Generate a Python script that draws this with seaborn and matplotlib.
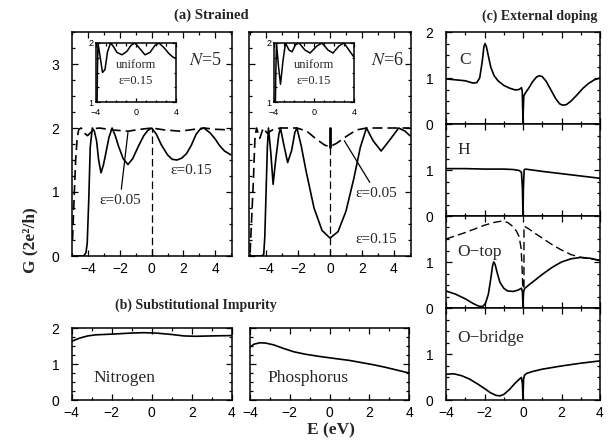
import matplotlib
matplotlib.use("Agg")
import matplotlib.pyplot as plt
import seaborn as sns
from matplotlib.ticker import MultipleLocator, FixedLocator

sns.set_style("ticks")
plt.rcParams["font.family"] = ["Liberation Sans", "DejaVu Sans"]
plt.rcParams["xtick.labelsize"] = 10
plt.rcParams["ytick.labelsize"] = 10
SERIF = ["Liberation Serif", "DejaVu Serif"]

# ---------------- data: (a) strained ----------------
n5_e015_E = [-5.0, -4.3, -4.15, -4.07, -3.97, -3.88, -3.75, -3.62, -3.48, -3.35, -3.2,
             -3.05, -2.9, -2.7, -2.5, -2.3, -2.1, -1.8, -1.5, -1.2, -0.85, -0.5, -0.25,
             0.0, 0.3, 0.6, 1.0, 1.3, 1.6, 1.9, 2.2, 2.5, 2.8, 3.05, 3.3, 3.7, 4.0, 4.3,
             4.6, 5.0]
n5_e015_G = [0.0, 0.0, 0.05, 0.2, 0.9, 1.7, 2.0, 1.95, 1.8, 1.5, 1.3,
             1.42, 1.6, 1.85, 2.0, 1.88, 1.72, 1.52, 1.43, 1.52, 1.71, 1.88, 1.96,
             2.0, 1.9, 1.74, 1.58, 1.51, 1.5, 1.53, 1.6, 1.73, 1.9, 1.98, 2.0, 1.92, 1.83, 1.72,
             1.64, 1.58]
n5_e005_E = [-5.0, -4.9, -4.8, -4.7, -4.6, -4.45, -4.25, -4.05, -3.85, -3.6, -3.3,
             -2.5, -1.5, -0.7, 0.0, 0.8, 1.8, 2.7, 3.3, 4.0, 5.0]
n5_e005_G = [0.25, 0.9, 1.5, 1.86, 1.98, 2.0, 1.92, 1.88, 1.93, 1.99, 2.0,
             1.97, 1.95, 1.98, 2.0, 1.97, 1.95, 1.98, 2.0, 1.98, 1.97]

n6_e015_E = [-5.0, -4.3, -4.15, -4.08, -4.0, -3.92, -3.85, -3.7, -3.56, -3.4, -3.2,
             -3.1, -2.9, -2.65, -2.4, -2.2, -2.07, -1.8, -1.5, -1.0, -0.5, 0.0, 0.5,
             1.0, 1.5, 1.9, 2.28, 2.7, 3.2, 3.7, 4.3, 4.7, 5.0]
n6_e015_G = [0.0, 0.0, 0.02, 0.3, 1.0, 1.7, 2.0, 1.6, 1.12, 1.5, 1.9,
             2.0, 1.75, 1.46, 1.65, 1.93, 2.0, 1.72, 1.33, 0.75, 0.4, 0.28, 0.38,
             0.7, 1.22, 1.7, 2.0, 1.8, 1.64, 1.8, 2.0, 1.95, 1.88]
n6_e005_E = [-5.0, -4.9, -4.8, -4.7, -4.6, -4.39, -4.18, -3.93, -3.6, -3.1, -2.07,
             -1.45, -0.83, -0.31, 0.0, 0.41, 1.03, 1.66, 2.3, 3.0, 4.0, 5.0]
n6_e005_G = [0.05, 0.6, 1.14, 1.82, 2.0, 1.84, 2.0, 1.92, 1.97, 2.0, 2.0,
             1.95, 1.82, 1.73, 1.71, 1.76, 1.87, 1.97, 2.0, 2.0, 2.0, 2.0]

# vertical reference at E=0 (dashed) and the short spike of N=6 curve
vline_E = [0.0, 0.0]
vline_G = [0.0, 2.0]
n6_spike_E = [0.0, 0.0]
n6_spike_G = [1.71, 2.0]

# insets: uniform strain eps=0.15
in5_E = [-4.0, -3.92, -3.86, -3.8, -3.6, -3.35, -3.1, -2.85, -2.55, -2.3, -1.9, -1.4,
         -0.9, -0.5, -0.1, 0.4, 0.9, 1.4, 1.9, 2.3, 2.8, 3.3, 3.7, 4.0]
in5_G = [0.0, 0.5, 1.5, 2.0, 1.78, 1.5, 1.55, 1.85, 2.0, 1.95, 1.84, 1.8,
         1.86, 1.96, 2.0, 1.9, 1.8, 1.84, 1.96, 2.0, 1.92, 1.82, 1.76, 1.74]
in6_E = [-4.0, -3.9, -3.82, -3.75, -3.55, -3.35, -3.1, -2.85, -2.5, -2.2, -1.85, -1.5,
         -0.9, -0.4, 0.3, 0.8, 1.4, 1.9, 2.5, 3.0, 3.5, 4.0]
in6_G = [0.0, 0.5, 1.5, 2.0, 1.6, 1.3, 1.7, 2.0, 1.88, 1.85, 1.97, 2.0,
         1.88, 1.83, 1.95, 2.0, 1.88, 1.83, 1.95, 2.0, 1.88, 1.76]

# ---------------- data: (b) substitutional impurity ----------------
nitro_E = [-4.0, -3.6, -3.2, -2.8, -2.0, -1.0, -0.4, 0.2, 1.0, 1.6, 2.2, 3.0, 4.0]
nitro_G = [1.63, 1.72, 1.78, 1.81, 1.83, 1.86, 1.87, 1.86, 1.82, 1.78, 1.77, 1.78, 1.79]
phos_E = [-4.0, -3.8, -3.5, -3.2, -2.8, -2.3, -1.8, -1.2, -0.5, 0.3, 1.0, 1.6, 2.2,
          2.8, 3.4, 4.0]
phos_G = [1.47, 1.55, 1.59, 1.58, 1.53, 1.43, 1.34, 1.27, 1.21, 1.15, 1.1, 1.04, 0.98,
          0.91, 0.83, 0.75]

# ---------------- data: (c) external doping ----------------
C_E = [-4.0, -3.5, -3.0, -2.6, -2.4, -2.25, -2.12, -2.03, -1.97, -1.9, -1.8, -1.67,
       -1.5, -1.3, -1.0, -0.7, -0.4, -0.2, -0.08, -0.04, -0.015, 0.0, 0.015, 0.04,
       0.1, 0.3, 0.5, 0.7, 0.85, 1.0, 1.2, 1.45, 1.7, 1.9, 2.05, 2.25, 2.5, 2.8,
       3.1, 3.4, 3.7, 4.0]
C_G = [0.98, 0.96, 0.94, 0.89, 0.9, 1.0, 1.35, 1.68, 1.75, 1.68, 1.48, 1.23,
       1.05, 0.94, 0.84, 0.78, 0.74, 0.75, 0.79, 0.72, 0.3, 0.0, 0.3, 0.6,
       0.66, 0.78, 0.92, 1.02, 1.05, 1.03, 0.93, 0.74, 0.55, 0.44, 0.41, 0.42, 0.5, 0.63,
       0.77, 0.88, 0.96, 1.0]
H_E = [-4.0, -3.0, -2.0, -1.0, -0.5, -0.2, -0.08, -0.03, 0.0, 0.02, 0.06, 0.12,
       1.0, 2.0, 3.0, 4.0]
H_G = [1.03, 1.03, 1.02, 1.02, 1.01, 0.99, 0.95, 0.6, 0.0, 0.6, 1.0, 1.02,
       0.97, 0.92, 0.87, 0.82]
Otop_E = [-4.0, -3.5, -3.0, -2.6, -2.3, -2.1, -1.95, -1.8, -1.68, -1.58, -1.52, -1.45,
          -1.35, -1.2, -1.0, -0.8, -0.5, -0.25, -0.08, -0.03, -0.012, 0.0, 0.012, 0.03,
          0.08, 0.3, 0.7, 1.0, 1.5, 2.0, 2.5, 3.0, 3.5, 4.0]
Otop_G = [0.37, 0.3, 0.2, 0.1, 0.04, 0.03, 0.1, 0.3, 0.62, 0.92, 1.0, 0.95,
          0.78, 0.56, 0.43, 0.37, 0.36, 0.39, 0.43, 0.35, 0.15, 0.0, 0.15, 0.35,
          0.42, 0.5, 0.63, 0.73, 0.88, 1.0, 1.07, 1.1, 1.08, 1.03]
Otop2_E = [-4.0, -3.5, -3.0, -2.5, -2.0, -1.5, -1.1, -0.8, -0.55, -0.35, -0.2, -0.1,
           -0.05, -0.02, 0.0, 0.05, 0.05, 0.3, 0.6, 1.0, 1.5, 2.0, 2.5, 3.0, 3.5, 4.0]
Otop2_G = [1.5, 1.57, 1.64, 1.72, 1.8, 1.86, 1.89, 1.86, 1.78, 1.68, 1.55, 1.3,
           0.9, 0.55, 0.42, 0.42, 1.78, 1.72, 1.63, 1.52, 1.38, 1.26, 1.16, 1.1, 1.07, 1.04]
Obr_E = [-4.0, -3.6, -3.2, -2.8, -2.4, -2.0, -1.7, -1.4, -1.2, -1.0, -0.7, -0.4,
         -0.2, -0.08, -0.03, -0.012, 0.0, 0.012, 0.03, 0.08, 0.2, 0.5, 1.0, 2.0, 3.0, 4.0]
Obr_G = [0.56, 0.57, 0.53, 0.46, 0.36, 0.25, 0.16, 0.1, 0.09, 0.12, 0.23, 0.37,
         0.45, 0.49, 0.35, 0.15, 0.0, 0.2, 0.45, 0.54, 0.58, 0.62, 0.67, 0.74, 0.8, 0.85]

# label anchors for panel (c): (E_left, G) in data units
c_names = ["C", "H", "O−top", "O−bridge"]
c_label_pos = [(-3.3, 1.4), (-3.4, 1.43), (-3.4, 1.22), (-3.4, 1.35)]

W, H = 613, 443
fig = plt.figure(figsize=(W / 100, H / 100), dpi=100)


def px_axes(x0, y0, x1, y1):
    return fig.add_axes([x0 / W, 1 - y1 / H, (x1 - x0) / W, (y1 - y0) / H])


def style(ax, xmaj, xmin, ymaj, ymin, lsize=10, maj=4.5, mnr=2.5, ypad=9, xpad=4):
    ax.xaxis.set_major_locator(MultipleLocator(xmaj))
    ax.xaxis.set_minor_locator(MultipleLocator(xmin))
    ax.yaxis.set_major_locator(MultipleLocator(ymaj))
    ax.yaxis.set_minor_locator(MultipleLocator(ymin))
    ax.tick_params(which="both", direction="in", top=True, right=True,
                   width=0.9, colors="black", labelsize=lsize)
    ax.tick_params(which="major", length=maj)
    ax.tick_params(which="minor", length=mnr)
    ax.tick_params(axis="y", pad=ypad)
    ax.tick_params(axis="x", pad=xpad)
    for s in ax.spines.values():
        s.set_linewidth(1.1)
        s.set_color("black")
    ax.set_xlabel("")
    ax.set_ylabel("")


def line(ax, E, G, dashed=False, lw=1.2):
    kw = dict(linestyle=(0, (6, 3))) if dashed else {}
    sns.lineplot(x=E, y=G, ax=ax, estimator=None, sort=False, color="black",
                 linewidth=lw, **kw)


# ---------- (a) ----------
ax5 = px_axes(71.7, 32, 231.7, 256)
ax6 = px_axes(249.3, 32, 410.7, 256)
for ax, solid_E, solid_G, dash_E, dash_G in [
        (ax5, n5_e015_E, n5_e015_G, n5_e005_E, n5_e005_G),
        (ax6, n6_e015_E, n6_e015_G, n6_e005_E, n6_e005_G)]:
    line(ax, dash_E, dash_G, dashed=True)
    line(ax, solid_E, solid_G)
    line(ax, vline_E, vline_G, dashed=True, lw=0.9)
    ax.set_xlim(-5.05, 5.05)
    ax.set_ylim(0, 3.5)
    style(ax, 2, 1, 1, 0.25)
    ax.set_xticks([-4, -2, 0, 2, 4])
line(ax6, n6_spike_E, n6_spike_G, lw=2.0)
ax6.set_yticklabels([])

ax5.text(3.4, 3.06, "$N$=5", family=SERIF, fontsize=13, ha="center", va="center",
         math_fontfamily="stix")
ax6.text(3.6, 3.06, "$N$=6", family=SERIF, fontsize=13, ha="center", va="center",
         math_fontfamily="stix")
ax5.annotate("ε=0.05", xy=(-1.5, 1.93), xytext=(-2.0, 0.87), family=SERIF, fontsize=11,
             ha="center", va="center", arrowprops=dict(arrowstyle="-", lw=0.9, color="black",
                                                       shrinkA=1, shrinkB=0))
ax5.text(1.15, 1.34, "ε=0.15", family=SERIF, fontsize=11, ha="left", va="center")
ax6.annotate("ε=0.05", xy=(0.9, 1.8), xytext=(1.6, 0.98), family=SERIF, fontsize=11,
             ha="left", va="center", arrowprops=dict(arrowstyle="-", lw=0.9, color="black",
                                                     shrinkA=1, shrinkB=0))
ax6.text(1.58, 0.25, "ε=0.15", family=SERIF, fontsize=11, ha="left", va="center")

# insets
for (x0, x1), E, G in [((96, 176), in5_E, in5_G), ((274, 354), in6_E, in6_G)]:
    ai = px_axes(x0, 43, x1, 102)
    line(ai, E, G, lw=1.1)
    ai.set_xlim(-4, 4)
    ai.set_ylim(1, 2)
    style(ai, 4, 1, 1, 0.25, lsize=6.5, maj=3, mnr=1.8, ypad=2, xpad=4.5)
    ai.text(0, 1.62, "uniform", family=SERIF, fontsize=9, ha="center", va="center")
    ai.text(0, 1.36, "ε=0.15", family=SERIF, fontsize=9, ha="center", va="center")

# ---------- (b) ----------
axN = px_axes(71.7, 328, 231.7, 400)
axP = px_axes(250, 328, 409, 400)
for ax, E, G, name, xl in [(axN, nitro_E, nitro_G, "Nitrogen", -2.9),
                           (axP, phos_E, phos_G, "Phosphorus", -3.1)]:
    line(ax, E, G)
    ax.set_xlim(-4, 4)
    ax.set_ylim(0, 2)
    style(ax, 2, 1, 1, 0.25)
    ax.text(xl, 0.6, name, family=SERIF, fontsize=12.5, ha="left", va="center")
axP.set_yticklabels([])

# ---------- (c) ----------
rows = [(32, 124), (124, 216), (216, 308), (308, 400)]
cdata = [(C_E, C_G), (H_E, H_G), (Otop_E, Otop_G), (Obr_E, Obr_G)]
for i, ((y0, y1), (E, G), name, (lx, ly)) in enumerate(zip(rows, cdata, c_names, c_label_pos)):
    ax = px_axes(446, y0, 600, y1)
    if name == "O−top":
        line(ax, Otop2_E, Otop2_G, dashed=True, lw=1.0)
    line(ax, E, G)
    ax.set_xlim(-4, 4)
    ax.set_ylim(0, 2)
    style(ax, 2, 1, 1, 0.25)
    if i > 0:
        ax.yaxis.set_major_locator(FixedLocator([0, 1, 2]))
        ax.set_yticklabels(["0", "1", ""])
    if i < 3:
        ax.set_xticklabels([])
    ax.text(lx, ly, name, family=SERIF, fontsize=12.5, ha="left", va="center")

# ---------- titles and labels ----------
fig.text(211 / W, 1 - 15 / H, "(a) Strained", family=SERIF, fontsize=10.5, weight="bold",
         ha="center", va="center")
fig.text(196 / W, 1 - 305 / H, "(b) Substitutional Impurity", family=SERIF, fontsize=10,
         weight="bold", ha="center", va="center")
fig.text(540 / W, 1 - 16 / H, "(c) External doping", family=SERIF, fontsize=10,
         weight="bold", ha="center", va="center")
fig.text(331 / W, 1 - 430 / H, "E (eV)", family=SERIF, fontsize=12.5, weight="bold",
         ha="center", va="center")
fig.text(30 / W, 1 - 240 / H, "G (2e²/h)", family=SERIF, fontsize=12.5, weight="bold",
         ha="center", va="center", rotation=90)

fig.savefig("out.png", dpi=100)
